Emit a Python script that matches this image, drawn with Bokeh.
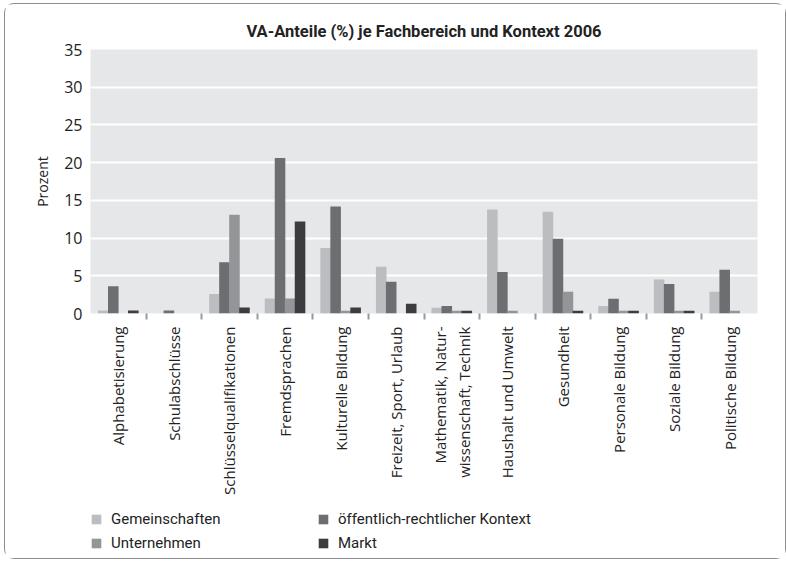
import numpy as np
from bokeh.plotting import figure
from bokeh.layouts import column
from bokeh.models import ColumnDataSource, Range1d, FixedTicker, Legend, LegendItem
from bokeh.transform import dodge
from bokeh.embed import file_html
from bokeh.resources import INLINE

categories = [
    "Alphabetisierung", "Schulabschlüsse", "Schlüsselqualifikationen", "Fremdsprachen",
    "Kulturelle Bildung", "Freizeit, Sport, Urlaub", "Mathematik, Natur-\nwissenschaft, Technik",
    "Haushalt und Umwelt", "Gesundheit", "Personale Bildung", "Soziale Bildung", "Politische Bildung",
]
gemeinschaften = [0.4, 0.0, 2.6, 2.0, 8.7, 6.2, 0.75, 13.8, 13.5, 1.0, 4.5, 2.9]
oeffentlich = [3.6, 0.4, 6.8, 20.6, 14.2, 4.2, 1.0, 5.5, 9.9, 1.95, 3.9, 5.8]
unternehmen = [0.0, 0.0, 13.1, 2.0, 0.35, 0.0, 0.35, 0.35, 2.9, 0.35, 0.35, 0.35]
markt = [0.4, 0.0, 0.8, 12.2, 0.8, 1.3, 0.35, 0.0, 0.35, 0.35, 0.35, 0.0]
series_names = ["Gemeinschaften", "öffentlich-rechtlicher Kontext", "Unternehmen", "Markt"]
y_ticks = [0, 5, 10, 15, 20, 25, 30, 35]

colors = ["#bcbdc0", "#6d6e71", "#939598", "#3c3c3e"]
pos = list(np.arange(len(categories)) + 0.5)
src = ColumnDataSource(dict(pos=pos, g=gemeinschaften, o=oeffentlich, u=unternehmen, m=markt))
cols = ["g", "o", "u", "m"]
offsets = [-0.27, -0.09, 0.09, 0.27]

# ---------- main chart ----------
p = figure(x_range=Range1d(0, len(categories)), y_range=Range1d(0, 35),
           frame_width=667, frame_height=264,
           min_border_left=84, min_border_right=29, min_border_top=45, min_border_bottom=196,
           output_backend="svg", toolbar_location=None)
p.background_fill_color = "#e6e7e8"
p.border_fill_color = "white"
p.outline_line_color = None

p.title.text = "VA-Anteile (%) je Fachbereich und Kontext 2006"
p.title.align = "center"
p.title.text_font = "Roboto"
p.title.text_font_size = "16.5px"
p.title.text_font_style = "bold"
p.title.text_color = "#222222"
p.title.standoff = 17

for c, off, col in zip(cols, offsets, colors):
    p.vbar(x=dodge("pos", off), top=c, width=0.19, bottom=0, source=src,
           fill_color=col, line_color=None)

p.yaxis.ticker = FixedTicker(ticks=y_ticks)
p.yaxis.axis_line_color = None
p.yaxis.major_tick_line_color = None
p.yaxis.minor_tick_line_color = None
p.yaxis.major_label_text_font = "Open Sans"
p.yaxis.major_label_text_font_size = "16px"
p.yaxis.major_label_text_color = "#222222"
p.yaxis.major_label_standoff = 2
p.yaxis.axis_label = "Prozent"
p.yaxis.axis_label_text_font = "Open Sans"
p.yaxis.axis_label_text_font_size = "14px"
p.yaxis.axis_label_text_font_style = "normal"
p.yaxis.axis_label_text_color = "#222222"
p.yaxis.axis_label_standoff = 9

p.xaxis.ticker = FixedTicker(ticks=pos, minor_ticks=list(range(1, len(categories))))
p.xaxis.major_label_overrides = {t: lab for t, lab in zip(pos, categories)}
p.xaxis.major_label_orientation = np.pi / 2
p.xaxis.axis_line_color = None
p.xaxis.major_tick_line_color = None
p.xaxis.minor_tick_line_color = "#9a9a9a"
p.xaxis.minor_tick_line_width = 2
p.xaxis.minor_tick_in = 0
p.xaxis.minor_tick_out = 6
p.xaxis.major_label_text_font = "Open Sans"
p.xaxis.major_label_text_font_size = "15px"
p.xaxis.major_label_text_color = "#222222"
p.xaxis.major_label_standoff = 7

p.xgrid.grid_line_color = None
p.ygrid.grid_line_color = "white"
p.ygrid.grid_line_width = 2

# ---------- legend strip ----------
pl = figure(width=780, height=49, x_range=Range1d(0, 1), y_range=Range1d(0, 1),
            x_axis_location=None, y_axis_location=None,
            min_border_left=85, min_border_right=0, min_border_top=0, min_border_bottom=0,
            output_backend="svg", toolbar_location=None)
pl.background_fill_color = "white"
pl.border_fill_color = "white"
pl.outline_line_color = None
pl.grid.grid_line_color = None
leg_renderers = []
for c, off, col in zip(cols, offsets, colors):
    r = pl.vbar(x=dodge("pos", off), top=c, width=0.19, bottom=0, source=src,
                fill_color=col, line_color=None, visible=False)
    leg_renderers.append(r)

legend = Legend(
    items=[LegendItem(label=series_names[0], renderers=[leg_renderers[0]]),
           LegendItem(label=series_names[2], renderers=[leg_renderers[2]]),
           LegendItem(label=series_names[1], renderers=[leg_renderers[1]]),
           LegendItem(label=series_names[3], renderers=[leg_renderers[3]])],
    location="top_left", orientation="vertical", nrows=2,
    border_line_color=None, background_fill_alpha=0,
    inactive_fill_alpha=0,
    padding=0, margin=0, spacing=4,
    glyph_width=12, glyph_height=12, label_height=20, label_width=202,
    label_standoff=9, label_text_font="Roboto",
    label_text_font_size="15px", label_text_color="#222222")
pl.add_layout(legend, "center")

layout = column(p, pl, spacing=0)
layout.styles = {"margin-left": "5px", "margin-top": "4px",
                 "outline": "1.5px solid #8c8c8c", "outline-offset": "0px",
                 "border-radius": "9px"}

open("out.html", "w").write(file_html(layout, INLINE))
